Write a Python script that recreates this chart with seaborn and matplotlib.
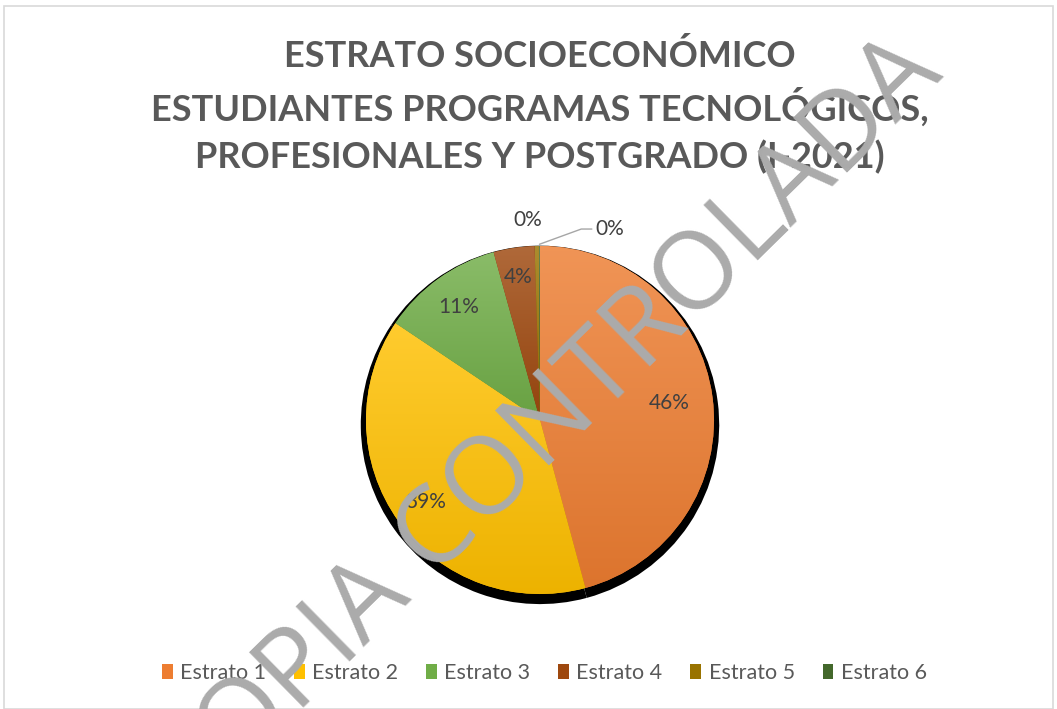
import numpy as np
import matplotlib
matplotlib.use("Agg")
import matplotlib.pyplot as plt
import matplotlib.colors as mcolors
from matplotlib.patches import Rectangle, Patch
import seaborn as sns

categories = ["Estrato 1", "Estrato 2", "Estrato 3", "Estrato 4", "Estrato 5", "Estrato 6"]
values = [45.8, 38.6, 11.3, 3.8, 0.4, 0.1]
colors = ["#ED7D31", "#FFC000", "#70AD47", "#9E480E", "#997300", "#43682B"]
title = "ESTRATO SOCIOECONÓMICO\nESTUDIANTES PROGRAMAS TECNOLÓGICOS,\nPROFESIONALES Y POSTGRADO (I-2021)"
watermark = "COPIA CONTROLADA"

sns.set_theme(style="white")
plt.rcParams["font.family"] = ["Lato", "DejaVu Sans"]

W, H = 1057, 709
fig = plt.figure(figsize=(W / 100, H / 100), dpi=100)
fig.patch.set_facecolor("white")

# chart border
fig.add_artist(Rectangle((4 / W, 0), 1 - 8 / W, 1 - 6 / H, transform=fig.transFigure,
                         fill=False, edgecolor="#D9D9D9", linewidth=1.2))

R = 174
cx, cy = 540, 420
k = 1.35
ax = fig.add_axes([(cx - R * k) / W, (H - cy - R * k) / H, 2 * R * k / W, 2 * R * k / H])
ax.set_xlim(-k, k)
ax.set_ylim(-k, k)
ax.set_aspect("equal")
ax.axis("off")

# shadow
ax.pie(values, radius=1.03, center=(0.0, -0.028), startangle=90, counterclock=False,
       colors=["black"] * len(values), wedgeprops=dict(linewidth=0))

wedges, _ = ax.pie(values, radius=1.0, startangle=90, counterclock=False, colors=colors,
                   wedgeprops=dict(linewidth=0))

# vertical gradient per slice (lighter at top, darker at bottom)
for w, c in zip(wedges, colors):
    base = np.array(mcolors.to_rgb(c))
    light = base + (1 - base) * 0.18
    dark = base * 0.93
    bb = w.get_path().get_extents(w.get_patch_transform())
    t = np.linspace(0, 1, 128)[:, None]
    img = light[None, :] * (1 - t) + dark[None, :] * t
    img = np.repeat(img[:, None, :], 2, axis=1)
    im = ax.imshow(img, extent=[bb.x0, bb.x1, bb.y0, bb.y1],
                   origin="upper", aspect="auto", zorder=w.get_zorder() + 0.1)
    im.set_clip_path(w)
ax.set_xlim(-k, k)
ax.set_ylim(-k, k)

# data labels
total = sum(values)
dist = [0.75, 0.81, 0.80, 0.83, 1.15, None]
lab_color = "#404040"
for i, (w, v) in enumerate(zip(wedges, values)):
    ang = np.deg2rad((w.theta1 + w.theta2) / 2)
    txt = f"{v / total * 100:.0f}%"
    if dist[i] is not None:
        d = dist[i]
        x, y = d * np.cos(ang), d * np.sin(ang)
        if i == 4:
            x -= 0.05
        ax.text(x, y, txt, ha="center", va="center", fontsize=15, color=lab_color, zorder=10)
    else:
        ex, ey = 1.01 * np.cos(ang), 1.01 * np.sin(ang)
        ax.annotate(txt, xy=(ex, ey), xytext=(ex + 0.32, ey + 0.03),
                    ha="left", va="bottom", fontsize=15, color=lab_color, zorder=10,
                    arrowprops=dict(arrowstyle="-", color="#A6A6A6", lw=1.0,
                                    shrinkA=0, shrinkB=0,
                                    connectionstyle="angle,angleA=0,angleB=20,rad=0"))

# title
fig.text(cx / W, 1 - 39 / H, title, ha="center", va="top", fontsize=26, fontweight="bold",
         color="#595959", family=["Lato", "DejaVu Sans"], linespacing=1.45)

# legend
handles = [Patch(facecolor=c, edgecolor="none") for c in colors]
fig.legend(handles, categories, loc="center", bbox_to_anchor=(0.515, 1 - 673 / H), ncol=6,
           frameon=False, fontsize=15.5, handlelength=0.5, handleheight=0.7,
           handletextpad=0.35, columnspacing=1.29, labelcolor="#595959")

# watermark
fig.text(546 / W, 1 - 429 / H, watermark, ha="center", va="center", rotation=44.5,
         fontsize=78, color="#ABABAB", family=["Open Sans", "DejaVu Sans"], zorder=20,
         fontweight="medium", rotation_mode="anchor")

fig.savefig("out.png", dpi=100, facecolor="white")
